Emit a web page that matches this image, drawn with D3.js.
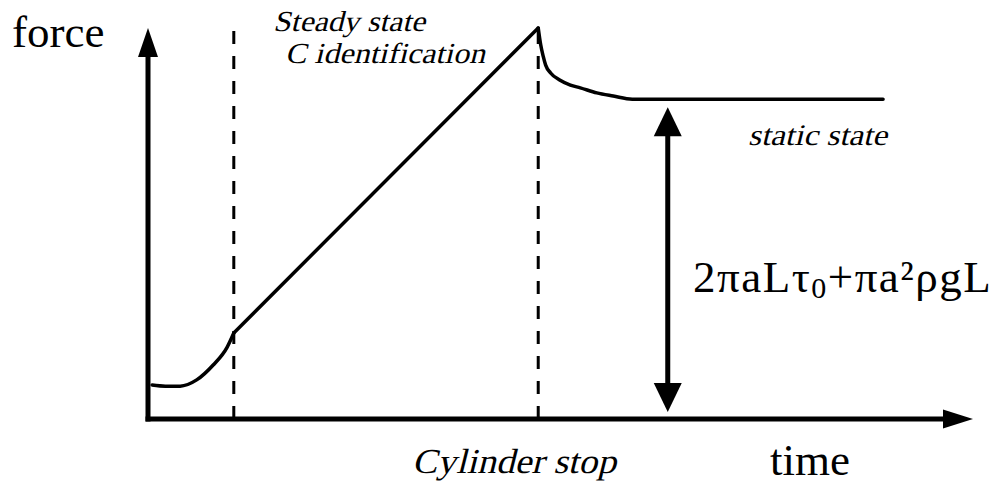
<!DOCTYPE html>
<html>
<head>
<meta charset="utf-8">
<script src="https://cdn.jsdelivr.net/npm/d3@7"></script>
<style>
  body { margin: 0; background: #fff; }
  text { font-family: "Liberation Serif", "Times New Roman", serif; fill: #000; }
</style>
</head>
<body>
<div id="chart"></div>
<script>
// force vs time, arbitrary units (0..100 on both axes)
var riseTime  = [0.5, 2.1, 3.9, 5.9, 7.9, 9.6, 10.4];
var riseForce = [8.7, 8.4, 8.4, 10.0, 13.8, 18.4, 22.0];
var rampTime  = [10.4, 47.3];
var rampForce = [22.0, 100];
var decayTime  = [47.3, 47.6, 47.9, 48.2, 48.8, 49.9, 51.2, 52.4, 54.4, 56.4, 58.7, 89.1];
var decayForce = [100, 95.7, 92.8, 90.5, 88.5, 86.7, 85.4, 84.7, 83.4, 82.6, 81.8, 81.8];
var markerTimes = [10.4, 47.3];      // dashed lines: steady state start, cylinder stop
var markerTops  = [101, 100];
var arrowTime = 63.0;                // double arrow position
var staticForce = 81.8;

var width = 1006, height = 486;

var svg = d3.select("#chart").append("svg")
  .attr("width", width)
  .attr("height", height);

var x = d3.scaleLinear().domain([0, 100]).range([148, 973]);
var y = d3.scaleLinear().domain([0, 100]).range([419, 28]);

/////////////////////////// axes ///////////////////////////
var ax = svg.append("g");
ax.append("line")
  .attr("x1", x(0)).attr("x2", x(0))
  .attr("y1", y(0) + 2.5).attr("y2", y(100) + 20)
  .attr("stroke", "#000").attr("stroke-width", 5);
ax.append("path")
  .attr("d", "M" + x(0) + "," + y(100) + "L" + (x(0) - 10) + "," + (y(100) + 29) +
             "L" + (x(0) + 10) + "," + (y(100) + 29) + "Z")
  .attr("fill", "#000");
ax.append("line")
  .attr("x1", x(0) - 2.5).attr("x2", x(100) - 20)
  .attr("y1", y(0)).attr("y2", y(0))
  .attr("stroke", "#000").attr("stroke-width", 5);
ax.append("path")
  .attr("d", "M" + x(100) + "," + y(0) + "L" + (x(100) - 30) + "," + (y(0) - 9.5) +
             "L" + (x(100) - 30) + "," + (y(0) + 9.5) + "Z")
  .attr("fill", "#000");

/////////////////////////// dashed markers ///////////////////////////
svg.selectAll(".marker")
  .data(markerTimes)
  .enter().append("line")
  .attr("class", "marker")
  .attr("x1", function(d) { return x(d); })
  .attr("x2", function(d) { return x(d); })
  .attr("y1", y(0))
  .attr("y2", function(d, i) { return y(markerTops[i]); })
  .attr("stroke", "#000")
  .attr("stroke-width", 3)
  .attr("stroke-dasharray", "13,12");

/////////////////////////// force curve ///////////////////////////
function pts(ts, fs) { return ts.map(function(t, i) { return [t, fs[i]]; }); }

var smooth = d3.line().x(function(d) { return x(d[0]); }).y(function(d) { return y(d[1]); })
  .curve(d3.curveMonotoneX);
var straight = d3.line().x(function(d) { return x(d[0]); }).y(function(d) { return y(d[1]); });

[[smooth, pts(riseTime, riseForce)],
 [straight, pts(rampTime, rampForce)],
 [smooth, pts(decayTime, decayForce)]].forEach(function(s) {
  svg.append("path")
    .attr("d", s[0](s[1]))
    .attr("fill", "none")
    .attr("stroke", "#000")
    .attr("stroke-width", 3.5)
    .attr("stroke-linejoin", "round")
    .attr("stroke-linecap", "round");
});

/////////////////////////// double arrow ///////////////////////////
var arrX = x(arrowTime), arrTop = y(staticForce) + 8, arrBot = y(0) - 7;
svg.append("line")
  .attr("x1", arrX).attr("x2", arrX)
  .attr("y1", arrTop + 20).attr("y2", arrBot - 20)
  .attr("stroke", "#000").attr("stroke-width", 5);
svg.append("path")
  .attr("d", "M" + arrX + "," + arrTop + "L" + (arrX - 14) + "," + (arrTop + 29) +
             "L" + (arrX + 14) + "," + (arrTop + 29) + "Z")
  .attr("fill", "#000");
svg.append("path")
  .attr("d", "M" + arrX + "," + arrBot + "L" + (arrX - 14) + "," + (arrBot - 29) +
             "L" + (arrX + 14) + "," + (arrBot - 29) + "Z")
  .attr("fill", "#000");

/////////////////////////// labels ///////////////////////////
svg.append("text").attr("x", 12).attr("y", 47).style("font-size", "45px").text("force");
svg.append("text").attr("x", 770).attr("y", 475).style("font-size", "45px").text("time");

// no serif italic face installed: slant the regular face
function italicLabel(txt, px, py, size, len) {
  svg.append("g")
    .attr("transform", "translate(" + px + "," + py + ") skewX(-14)")
    .append("text")
    .attr("x", 0).attr("y", 0)
    .attr("textLength", len)
    .attr("lengthAdjust", "spacingAndGlyphs")
    .style("font-size", size + "px")
    .text(txt);
}
italicLabel("Cylinder stop", 412, 473, 35, 204);
italicLabel("Steady state", 273, 31, 29, 152);
italicLabel("C identification", 285, 63, 29, 200);
italicLabel("static state", 748, 145, 30, 139);

var formula = svg.append("text").attr("x", 693).attr("y", 292)
  .style("font-size", "45px").style("letter-spacing", "1.5px");
formula.append("tspan").text("2\u03C0aL\u03C4");
formula.append("tspan").attr("dy", 6).style("font-size", "30px").text("0");
formula.append("tspan").attr("dy", -6).text("+\u03C0a\u00B2\u03C1gL");
</script>
</body>
</html>
